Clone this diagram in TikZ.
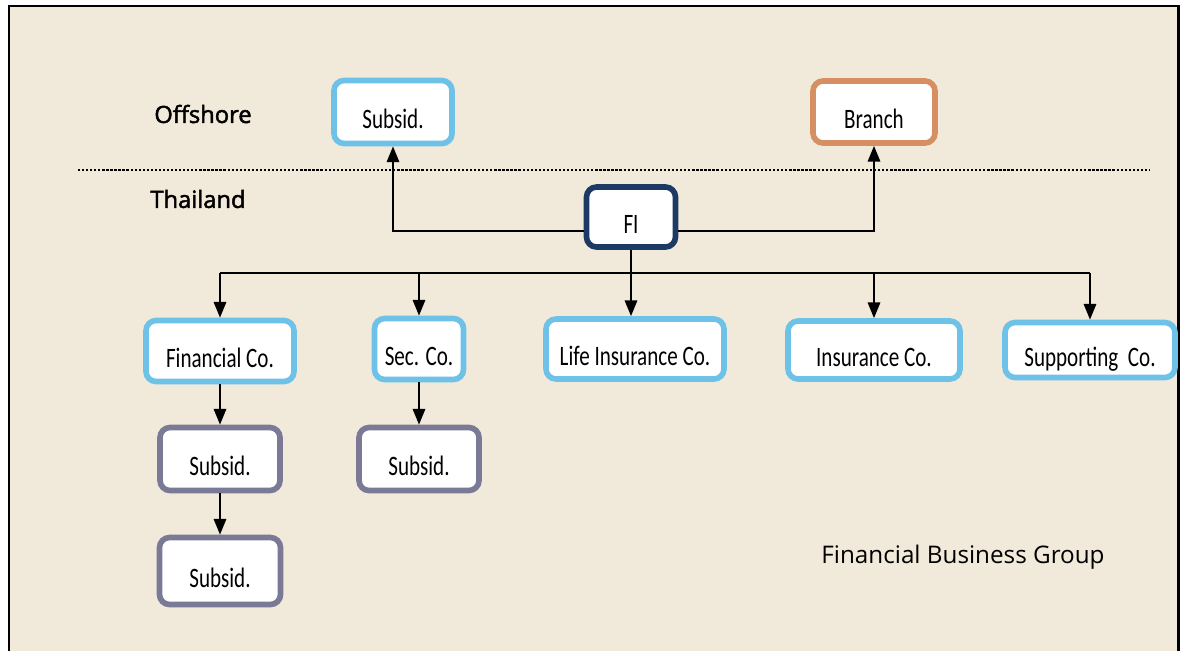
\documentclass[tikz,border=0pt]{standalone}
\usepackage{fontspec}
\usetikzlibrary{arrows.meta}
\usetikzlibrary{calc}
\newfontfamily\boxfont[FakeStretch=0.75]{Carlito}
\newfontfamily\headfont[FakeBold=2]{Open Sans}
\newfontfamily\groupfont{Open Sans}
\definecolor{paper}{RGB}{241,233,217}
\definecolor{skyline}{RGB}{110,194,232}
\definecolor{slateline}{RGB}{122,122,150}
\definecolor{rustline}{RGB}{213,143,98}
\definecolor{navyline}{RGB}{28,58,99}
\tikzstyle{co}=[rectangle, rounded corners=0.2cm, fill=white, line width=3.2pt,
  font=\boxfont\fontsize{16}{18}\selectfont, text height=22pt, text depth=3pt, inner sep=0pt]
\tikzstyle{arr}=[-{Triangle[length=9pt,width=7pt]}, line width=1.3pt]
\tikzstyle{line}=[draw, line width=1.3pt]

\begin{document}
\begin{tikzpicture}[x=0.02cm, y=-0.02cm]
  \useasboundingbox (0,0) rectangle (1188,650);
  \fill[white] (0,0) rectangle (1188,650);
  \draw[line width=1.7pt, fill=paper] (9,6) rectangle (1178,670);

  %\draw [help lines, step=50] (0,0) grid (1188,650);
  \node[font=\headfont\fontsize{13.5}{15}\selectfont] (off) at (203,114) {Offshore};
  \node[font=\headfont\fontsize{13.5}{15}\selectfont] (thai) at (198,199) {Thailand};
  \draw[line width=1.3pt, dash pattern=on 1.3pt off 1pt] (78,170) -- (1150,170);

  \node[co, draw=skyline, minimum width=2.36cm, minimum height=1.26cm] (sub0) at (393,112) {Subsid.};
  \node[co, draw=rustline, minimum width=2.44cm, minimum height=1.24cm] (branch) at (874,112) {Branch};
  \node[co, draw=navyline, minimum width=1.78cm, minimum height=1.2cm] (fi) at (631,217) {FI};

  \node[co, draw=skyline, minimum width=2.96cm, minimum height=1.22cm] (fin) at (220,351) {Financial Co.};
  \node[co, draw=skyline, minimum width=1.78cm, minimum height=1.22cm] (sec) at (419,349) {Sec. Co.};
  \node[co, draw=skyline, minimum width=3.56cm, minimum height=1.2cm] (life) at (635,349) {Life Insurance Co.};
  \node[co, draw=skyline, minimum width=3.44cm, minimum height=1.16cm] (ins) at (874,350) {Insurance Co.};
  \node[co, draw=skyline, minimum width=3.4cm, minimum height=1.1cm] (supp) at (1090,350) {Supporting~ Co.};

  \node[co, draw=slateline, minimum width=2.4cm, minimum height=1.26cm] (sub1) at (220,459) {Subsid.};
  \node[co, draw=slateline, minimum width=2.42cm, minimum height=1.34cm] (sub2) at (220,571) {Subsid.};
  \node[co, draw=slateline, minimum width=2.4cm, minimum height=1.26cm] (sub3) at (419,459) {Subsid.};

  \node[font=\groupfont\fontsize{13.8}{16}\selectfont] (group) at (963,557) {Financial Business Group};

  \coordinate (bus) at (631,273);
  \draw[arr] ([yshift=-0.28cm]fi.west) -| (sub0);
  \draw[arr] ([yshift=-0.28cm]fi.east) -| (branch);
  \draw[arr] (fi.south) -- (fi.south |- life.north);
  \path[line] (bus -| fin) -- (bus -| supp);
  \foreach \n in {fin,sec,ins,supp}
    \draw[arr] (bus -| \n) -- (\n);
  \draw[arr] (fin) -- (sub1);
  \draw[arr] (sub1) -- (sub2);
  \draw[arr] (sec) -- (sub3);

\end{tikzpicture}
\end{document}
